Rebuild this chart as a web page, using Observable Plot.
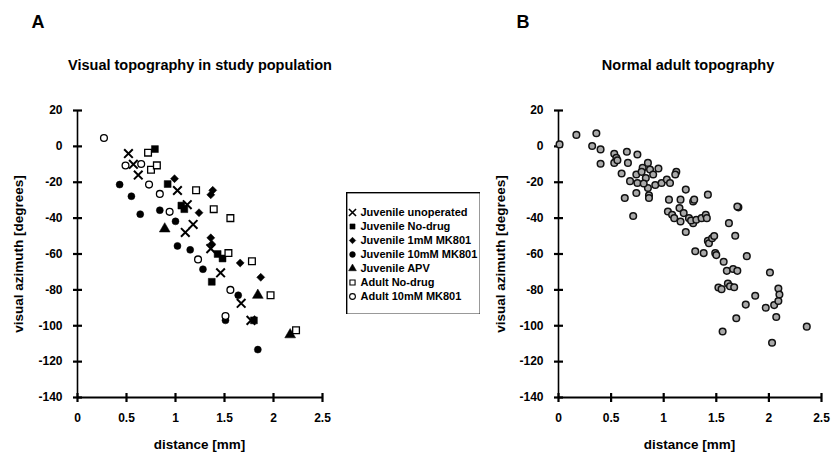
<!DOCTYPE html>
<html><head><meta charset="utf-8">
<script src="https://cdn.jsdelivr.net/npm/d3@7"></script>
<script src="https://cdn.jsdelivr.net/npm/@observablehq/plot@0.6"></script>
<style>
body{margin:0;background:#fff;}
#root{position:relative;width:832px;height:456px;overflow:hidden;background:#fff;font-family:"Liberation Sans",Arial,sans-serif;font-weight:bold;color:#000;}
.abs{position:absolute;white-space:nowrap;line-height:1;}
#root svg{position:absolute;}
</style></head><body><div id="root"></div>
<script>
// ---- data ----
const xTicks = [0, 0.5, 1, 1.5, 2, 2.5];
const yTicks = [20, 0, -20, -40, -60, -80, -100, -120, -140];
const categories = ["Juvenile unoperated", "Juvenile No-drug", "Juvenile 1mM MK801", "Juvenile 10mM MK801", "Juvenile APV", "Adult No-drug", "Adult 10mM MK801"];

const juvenileUnoperated = [[0.52,-4],[0.57,-10],[0.62,-16],[1.02,-24.6],[1.12,-32.5],[1.18,-43.5],[1.10,-48],[1.36,-57],[1.46,-70.5],[1.67,-87.5],[1.77,-97]];
const juvenileNoDrug = [[0.79,-1.5],[0.92,-21],[1.06,-33],[1.09,-35],[1.43,-60],[1.48,-62.5],[1.37,-75.5],[1.80,-97]];
const juvenile1mM = [[0.99,-18],[1.36,-27],[1.38,-24.5],[1.24,-37],[1.36,-51],[1.37,-54.5],[1.66,-65],[1.87,-73]];
const juvenile10mM = [[0.43,-21.3],[0.55,-27.8],[0.64,-37.8],[0.84,-35.6],[1.0,-41.8],[1.02,-55.5],[1.15,-57.7],[1.28,-68.5],[1.64,-83],[1.51,-97],[1.84,-113.3]];
const juvenileAPV = [[0.89,-46],[1.84,-83],[2.17,-105]];
const adultNoDrug = [[0.72,-3.5],[0.75,-13],[0.81,-10.6],[1.21,-24.5],[1.39,-35],[1.56,-40],[1.54,-59.5],[1.78,-64],[1.97,-83],[2.23,-102.5]];
const adult10mM = [[0.27,4.7],[0.49,-10.7],[0.65,-9.8],[0.73,-21.3],[0.84,-26.5],[0.94,-36.5],[1.23,-63],[1.56,-80],[1.51,-94.6]];

const normalAdult = [[0.01,1.1],[0.17,6.4],[0.36,7.3],[0.32,0.2],[0.40,-1.7],[0.40,-9.7],[0.53,-4.1],[0.55,-6.4],[0.53,-9.2],[0.56,-7.7],[0.60,-15.1],[0.65,-3],[0.66,-9.2],[0.63,-28.8],[0.68,-19.4],[0.75,-4.5],[0.74,-15.7],[0.75,-20.4],[0.74,-26],[0.71,-38.8],[0.80,-12],[0.79,-14.2],[0.83,-17.6],[0.85,-9.2],[0.87,-12.9],[0.85,-23.2],[0.86,-27.3],[0.86,-28.8],[0.81,-20.7],[0.90,-15.7],[0.95,-12.3],[0.92,-21.5],[0.98,-20.4],[1.03,-18.5],[1.06,-20.4],[1.05,-29.7],[1.04,-36.3],[1.12,-14.2],[1.11,-15.7],[1.08,-38.1],[1.10,-40],[1.15,-34.4],[1.16,-29.7],[1.16,-41.9],[1.19,-37.2],[1.21,-24.1],[1.21,-47.7],[1.24,-40],[1.28,-30.7],[1.29,-29.7],[1.28,-42.8],[1.26,-41.3],[1.31,-40.9],[1.30,-58.5],[1.36,-40],[1.38,-59.5],[1.40,-38.1],[1.41,-40],[1.42,-26.9],[1.42,-52.7],[1.43,-54],[1.46,-51.2],[1.48,-50],[1.49,-59.5],[1.50,-60.6],[1.52,-78.7],[1.55,-79.6],[1.56,-103.2],[1.57,-64.3],[1.60,-69.4],[1.62,-42.8],[1.61,-76.5],[1.63,-78],[1.68,-49.8],[1.66,-68.4],[1.70,-69.4],[1.67,-78.5],[1.69,-95.8],[1.71,-34],[1.70,-33.5],[1.79,-61.2],[1.78,-88.2],[1.87,-83.3],[1.97,-90],[2.01,-70.3],[2.03,-109.5],[2.05,-88.5],[2.07,-95.1],[2.09,-86.2],[2.09,-79.2],[2.10,-82.6],[2.36,-100.5]];

// ---- custom symbol ----
const diamond = {draw(ctx, size) { const h = Math.sqrt(size / 2); ctx.moveTo(0, -h); ctx.lineTo(h, 0); ctx.lineTo(0, h); ctx.lineTo(-h, 0); ctx.closePath(); }};

// ---- styles ----
const seriesA = [
  {name: categories[0], data: juvenileUnoperated, symbol: "times", fill: "none", stroke: "black", sw: 2, r: 4},
  {name: categories[1], data: juvenileNoDrug, symbol: "square", fill: "black", stroke: "black", sw: 0.5, r: 3.9},
  {name: categories[2], data: juvenile1mM, symbol: diamond, fill: "black", stroke: "black", sw: 0.5, r: 3.2},
  {name: categories[3], data: juvenile10mM, symbol: "circle", fill: "black", stroke: "black", sw: 0.5, r: 3.5},
  {name: categories[4], data: juvenileAPV, symbol: "triangle", fill: "black", stroke: "black", sw: 0.5, r: 4},
  {name: categories[5], data: adultNoDrug, symbol: "square", fill: "white", stroke: "black", sw: 1.3, r: 3.8},
  {name: categories[6], data: adult10mM, symbol: "circle", fill: "white", stroke: "black", sw: 1.3, r: 3.4}
];

const root = document.getElementById("root");
const FONT = '"Liberation Sans", Arial, sans-serif';
const X0 = 0, X1 = 2.5, Y0 = -140, Y1 = 20;
const MT = 110, MB = 59, H = 456;

function panel({left, width, marginLeft, marginRight, marks}) {
  const pw = width - marginLeft - marginRight, ph = H - MT - MB;
  const hx = 4.5 * (X1 - X0) / pw;   // half tick length in x units
  const hy = 4.5 * (Y1 - Y0) / ph;   // half tick length in y units
  const tickRowsY = yTicks.map(v => ({y: v, x1: X0 - hx, x2: X0 + hx}));
  const tickRowsX = xTicks.map(v => ({x: v, y1: Y0 - hy, y2: Y0 + hy}));
  const svg = Plot.plot({
    width, height: H,
    marginLeft, marginRight, marginTop: MT, marginBottom: MB,
    x: {domain: [X0, X1], label: null, ticks: xTicks, tickSize: 0, tickPadding: 16, tickFormat: d => String(d)},
    y: {domain: [Y0, Y1], label: null, ticks: yTicks, tickSize: 0, tickPadding: 15, tickFormat: d => String(d)},
    style: {fontFamily: FONT, fontSize: "12px", fontWeight: "bold", color: "black", background: "transparent", overflow: "visible"},
    marks: [
      Plot.ruleX([X0], {stroke: "black", strokeWidth: 1.6}),
      Plot.ruleY([Y0], {stroke: "black", strokeWidth: 1.8}),
      Plot.link(tickRowsY, {x1: "x1", x2: "x2", y1: "y", y2: "y", stroke: "black", strokeWidth: 2.2}),
      Plot.link(tickRowsX, {x1: "x", x2: "x", y1: "y1", y2: "y2", stroke: "black", strokeWidth: 2.2}),
      ...marks
    ]
  });
  svg.style.left = left + "px";
  svg.style.top = "0px";
  root.appendChild(svg);
}

panel({
  left: 0, width: 420, marginLeft: 77, marginRight: 98,
  marks: seriesA.map(s => Plot.dot(s.data, {x: d => d[0], y: d => d[1], symbol: s.symbol, r: s.r, fill: s.fill, stroke: s.stroke, strokeWidth: s.sw}))
});

panel({
  left: 420, width: 412, marginLeft: 138, marginRight: 11,
  marks: [Plot.dot(normalAdult, {x: d => d[0], y: d => d[1], r: 3.3, fill: "#a9a9a9", stroke: "#111", strokeWidth: 1.5})]
});

// legend drawn with Plot
const legend = Plot.plot({
  width: 134, height: 122,
  margin: 0,
  x: {domain: [0, 1], axis: null},
  y: {type: "point", domain: categories, range: [12, 112], axis: null},
  style: {fontFamily: FONT, fontSize: "11px", fontWeight: "bold", color: "black", background: "white"},
  marks: [
    Plot.frame({stroke: "black", strokeWidth: 1.8}),
    ...seriesA.map(s => Plot.dot([s.name], {y: d => d, frameAnchor: "left", dx: 6, symbol: s.symbol, r: s.symbol === "times" ? 3.3 : (s.symbol === diamond ? 2.6 : 2.9), fill: s.fill, stroke: s.stroke, strokeWidth: s.symbol === "times" ? 1.6 : (s.fill === "white" ? 1.1 : 0.5)})),
    Plot.text(categories, {y: d => d, frameAnchor: "left", dx: 14, text: d => d, textAnchor: "start", fontWeight: "bold"})
  ]
});
legend.style.left = "346px";
legend.style.top = "192px";
root.appendChild(legend);

function label(text, cx, cy, size, rotate) {
  const el = document.createElement("div");
  el.className = "abs";
  el.textContent = text;
  el.style.fontSize = size + "px";
  el.style.left = cx + "px";
  el.style.top = cy + "px";
  el.style.transform = "translate(-50%,-50%)" + (rotate ? " rotate(-90deg)" : "");
  root.appendChild(el);
}
label("A", 38, 22, 18);
label("B", 523, 22, 18);
label("Visual topography in study population", 200, 65, 14.5);
label("Normal adult topography", 688, 65, 14.5);
label("visual azimuth [degrees]", 19, 254, 13.5, true);
label("visual azimuth [degrees]", 501, 254, 13.5, true);
label("distance [mm]", 199.5, 445, 13.5);
label("distance [mm]", 689.5, 445, 13.5);
</script></body></html>
